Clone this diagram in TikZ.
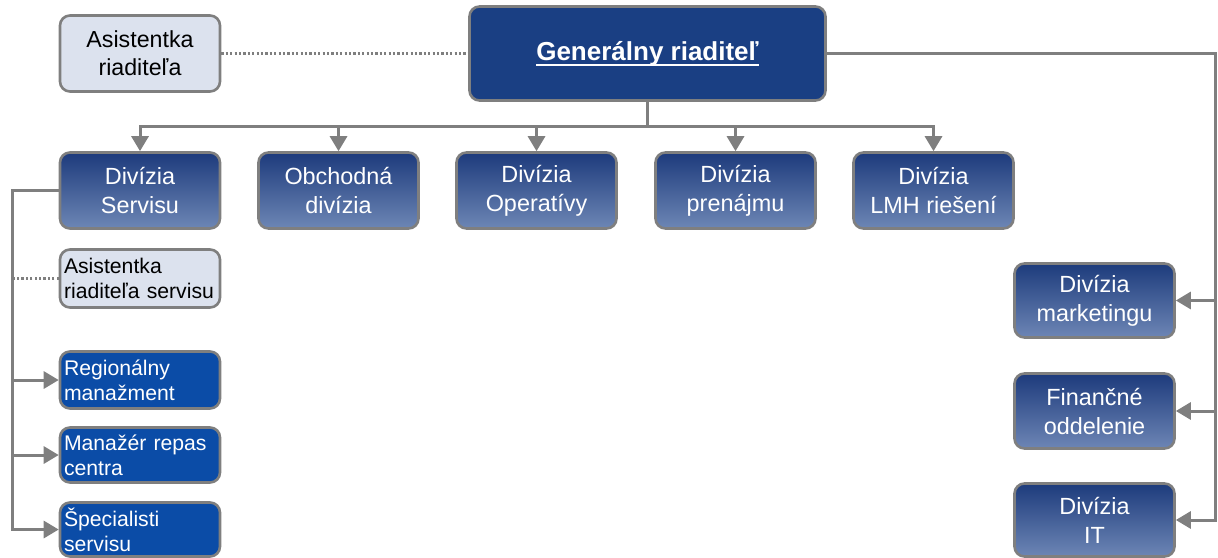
\documentclass[tikz,border=0pt]{standalone}
\usepackage{fontspec}
\setmainfont{Liberation Sans}
\usetikzlibrary{arrows.meta}

\definecolor{bossblue}{HTML}{1A3F83}
\definecolor{divtop}{HTML}{1D3B7C}
\definecolor{divbottom}{HTML}{6D86B5}
\definecolor{unitblue}{HTML}{0B4CA7}
\definecolor{assistgray}{HTML}{DCE2EE}
\definecolor{linegray}{HTML}{7F7F7F}

% underline close under the baseline
\newcommand{\bossline}[1]{\setbox0\hbox{#1}\rlap{\rule[-2.6pt]{\wd0}{0.9pt}}\box0}

\begin{document}
\begin{tikzpicture}[x=0.5pt,y=-0.5pt,
    box/.style={draw=linegray, line width=1.3pt, rounded corners=5pt, minimum width=80pt},
    bossbox/.style={box, fill=bossblue, text=white, minimum width=178pt, minimum height=47pt,
        font=\fontsize{13}{15}\selectfont\bfseries},
    assistbox/.style={box, fill=assistgray, text=black, align=center, minimum height=38pt,
        font=\fontsize{11.6}{14}\selectfont},
    divbox/.style={box, top color=divtop, bottom color=divbottom, text=white, align=center,
        minimum height=38pt, font=\fontsize{11.7}{14.5}\selectfont},
    unitbox/.style={box, fill=unitblue, text=white, align=left, text width=76pt, inner xsep=1.5pt,
        inner ysep=1.5pt, font=\fontsize{10.6}{12.5}\selectfont},
    sidebox/.style={unitbox, fill=assistgray, text=black},
    link/.style={draw=linegray, line width=1.5pt},
    arrowlink/.style={link, -{Triangle[width=8.5pt,length=7.5pt]}},
    dottedlink/.style={draw=linegray, line width=1.2pt, dash pattern=on 1.1pt off 1.1pt}]

    \useasboundingbox (0,0) rectangle (1218,557);

    % Defining the boxes
    \node[bossbox] (boss) at (647.5,53.5) {\bossline{Generálny riaditeľ}};
    \node[assistbox] (assistant) at (140,53.5) {Asistentka\\riaditeľa};

    \node[divbox] (service) at (140,190.5) {Divízia\\Servisu};
    \node[divbox] (sales) at (338.5,190.5) {Obchodná\\divízia};
    \node[divbox] (operations) at (536.5,190.5) {Divízia\\Operatívy};
    \node[divbox] (rental) at (735.5,190.5) {Divízia\\prenájmu};
    \node[divbox] (lmh) at (933.5,190.5) {Divízia\\LMH riešení};

    \node[divbox, minimum height=37pt] (marketing) at (1094.5,300.5) {Divízia\\marketingu};
    \node[divbox, minimum height=37.5pt] (finance) at (1094.5,411) {Finančné\\oddelenie};
    \node[divbox, minimum height=36.5pt] (it) at (1094.5,520) {Divízia\\IT};

    \node[sidebox, minimum height=29pt] (serviceassistant) at (140,278.5) {Asistentka\\riaditeľa servisu};
    \node[unitbox, minimum height=28.5pt] (regional) at (140,380) {Regionálny\\manažment};
    \node[unitbox, minimum height=27.5pt] (repas) at (140,455) {Manažér repas\\centra};
    \node[unitbox, minimum height=27pt] (specialists) at (140,529.5) {Špecialisti\\servisu};

    \coordinate (rightrail) at (1215.5,53.5);
    \coordinate (leftrail) at (12,190.5);

    % Defining the links between the boxes
    \draw[dottedlink] (assistant) -- (boss);

    \draw[arrowlink] (boss.south) -- ++(0,25) -| (service.north);
    \draw[arrowlink] (boss.south) -- ++(0,25) -| (sales.north);
    \draw[arrowlink] (boss.south) -- ++(0,25) -| (operations.north);
    \draw[arrowlink] (boss.south) -- ++(0,25) -| (rental.north);
    \draw[arrowlink] (boss.south) -- ++(0,25) -| (lmh.north);

    \draw[arrowlink] (boss.east) -- (rightrail) |- (marketing.east);
    \draw[arrowlink] (boss.east) -- (rightrail) |- (finance.east);
    \draw[arrowlink] (boss.east) -- (rightrail) |- (it.east);

    \draw[arrowlink] (service.west) -- (leftrail) |- (regional.west);
    \draw[arrowlink] (service.west) -- (leftrail) |- (repas.west);
    \draw[arrowlink] (service.west) -- (leftrail) |- (specialists.west);
    \draw[dottedlink] (serviceassistant.west) -- (serviceassistant.west -| leftrail);

\end{tikzpicture}
\end{document}
